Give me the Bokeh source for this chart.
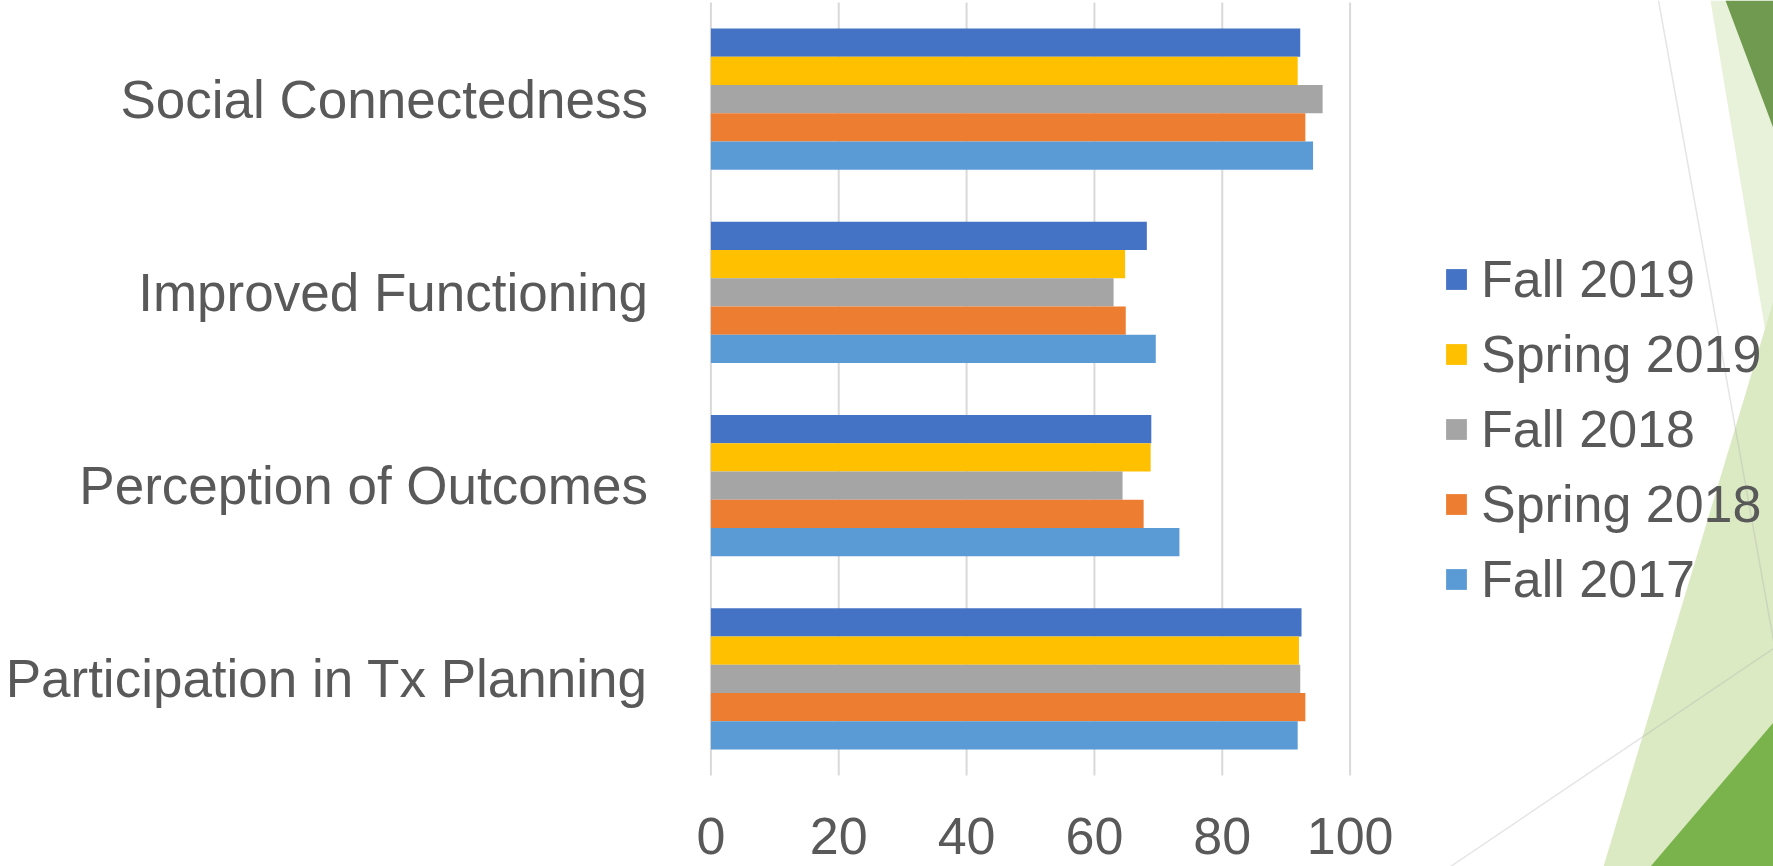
from bokeh.plotting import figure
from bokeh.models import (ColumnDataSource, Range1d, FixedTicker,
                          Legend, LegendItem, PolyAnnotation)
from bokeh.transform import dodge
from bokeh.embed import file_html
from bokeh.resources import INLINE

# Survey domains, listed top to bottom as they appear on the chart
categories = ["Social Connectedness", "Improved Functioning",
              "Perception of Outcomes", "Participation in Tx Planning"]

# Percent positive per survey wave (same order as categories)
fall_2019 = [92.2, 68.2, 68.9, 92.4]
spring_2019 = [91.8, 64.8, 68.8, 92.0]
fall_2018 = [95.7, 63.0, 64.4, 92.2]
spring_2018 = [93.0, 64.9, 67.7, 93.0]
fall_2017 = [94.2, 69.6, 73.3, 91.8]

series_names = ["Fall 2019", "Spring 2019", "Fall 2018", "Spring 2018", "Fall 2017"]
series_keys = ["fall_2019", "spring_2019", "fall_2018", "spring_2018", "fall_2017"]
series_colors = ["#4472C4", "#FFC000", "#A5A5A5", "#ED7D31", "#5B9BD5"]
x_ticks = [0, 20, 40, 60, 80, 100]

TEXT = "#595959"
FONT = "Liberation Sans"

# Page geometry (pixels): the plotting area sits inside a full-page canvas
W, H = 1773, 866
AREA_L, AREA_R, AREA_T, AREA_B = 710.4, 1349.6, 2.0, 775.0

n = len(categories)
cat_y = [n - 0.5 - i for i in range(n)]          # category slots, top to bottom

x_unit = (AREA_R - AREA_L) / 100.0
y_unit = (AREA_B - AREA_T) / n
x_range = Range1d(-AREA_L / x_unit, 100 + (W - AREA_R) / x_unit)
y_range = Range1d(-(H - AREA_B) / y_unit, n + AREA_T / y_unit)

source = ColumnDataSource(dict(
    y=cat_y,
    fall_2019=fall_2019,
    spring_2019=spring_2019,
    fall_2018=fall_2018,
    spring_2018=spring_2018,
    fall_2017=fall_2017,
))

p = figure(width=W, height=H, x_range=x_range, y_range=y_range,
           output_backend="svg", toolbar_location=None, min_border=0)
p.outline_line_color = None
p.background_fill_color = "white"
p.border_fill_color = "white"
p.grid.visible = False


def flip(ys):
    # screen-space y for these annotations counts up from the bottom edge
    return [H - y for y in ys]


# Slide decoration along the right edge (top-down pixel corners)
decor = [
    ([1710, 1773, 1773], [0, 0, 380], "#e8f1da"),
    ([1603, 1773, 1773], [866, 866, 300], "#dceac4"),
    ([1725, 1773, 1773], [0, 0, 128], "#6f9a4f"),
    ([1650, 1773, 1773], [866, 866, 722], "#7ab24c"),
]
for xs, ys, color in decor:
    p.add_layout(PolyAnnotation(xs=xs, ys=flip(ys), xs_units="screen", ys_units="screen",
                                fill_color=color, fill_alpha=1.0, line_color=None,
                                level="underlay"))
for xs, ys in [([1658, 1773], [0, 640]), ([1450, 1773], [866, 648])]:
    p.add_layout(PolyAnnotation(xs=xs, ys=flip(ys), xs_units="screen", ys_units="screen",
                                fill_color=None, fill_alpha=0, line_color="#a9a9a9",
                                line_width=1.5, level="underlay"))

# Vertical gridlines over the plotting area only
p.segment(x0=x_ticks, x1=x_ticks, y0=0, y1=n, line_color="#d9d9d9", line_width=2)

bar_h = 0.146
offsets = [2 * bar_h, bar_h, 0.0, -bar_h, -2 * bar_h]
renderers = []
for key, color, off in zip(series_keys, series_colors, offsets):
    r = p.hbar(y=dodge("y", off), left=0, right=key, height=bar_h,
               source=source, fill_color=color, line_color=None)
    renderers.append(r)

# Axes pinned to the edges of the plotting area
p.xaxis.fixed_location = 0
p.yaxis.fixed_location = 0
p.xaxis.ticker = FixedTicker(ticks=x_ticks)
p.yaxis.ticker = FixedTicker(ticks=cat_y)
p.yaxis.major_label_overrides = {y: c for y, c in zip(cat_y, categories)}
for ax in (p.xaxis, p.yaxis):
    ax.axis_line_color = None
    ax.major_tick_line_color = None
    ax.minor_tick_line_color = None
    ax.major_label_text_color = TEXT
    ax.major_label_text_font = FONT
p.xaxis.major_label_text_font_size = "52px"
p.xaxis.major_label_standoff = 36
p.yaxis.major_label_text_font_size = "53px"
p.yaxis.major_label_standoff = 57

legend = Legend(
    items=[LegendItem(label=nm, renderers=[r]) for nm, r in zip(series_names, renderers)],
    location=(1443, 257),
    glyph_width=26, glyph_height=26,
    label_text_font=FONT, label_text_font_size="52px", label_text_color=TEXT,
    label_standoff=12, label_height=60, spacing=15,
    padding=0, margin=0, border_line_color=None, background_fill_alpha=0,
)
p.add_layout(legend, "center")

open("out.html", "w").write(file_html(p, INLINE))
